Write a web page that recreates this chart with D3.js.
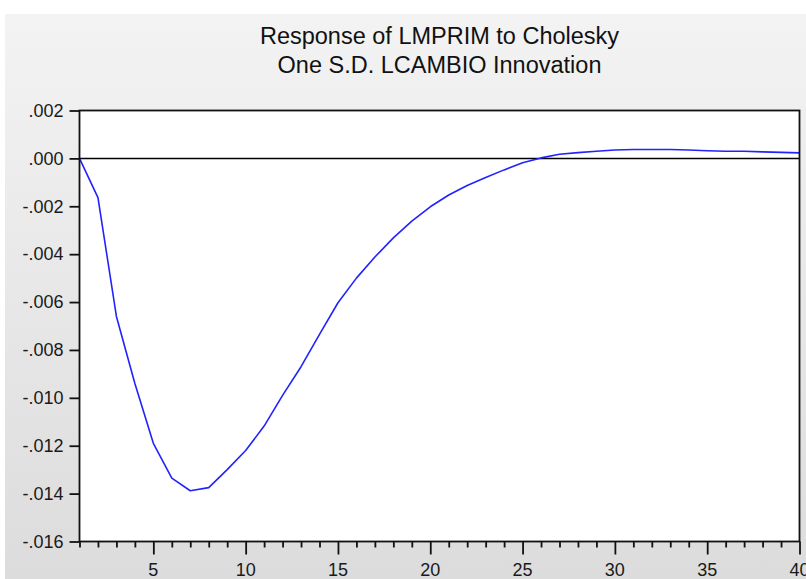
<!DOCTYPE html>
<html>
<head>
<meta charset="utf-8">
<script src="https://cdn.jsdelivr.net/npm/d3@7"></script>
<style>
  body { margin: 0; background: #fff; }
  text { font-family: "Liberation Sans", Arial, sans-serif; }
</style>
</head>
<body>
<div id="chart"></div>
<script>
// impulse response, periods 1..40
var periods = d3.range(1, 41);
var response = [
  0.00000, -0.00164, -0.00660, -0.00940, -0.01190, -0.01335, -0.01388, -0.01375,
  -0.01300, -0.01220, -0.01118, -0.00990, -0.00870, -0.00735, -0.00603, -0.00500,
  -0.00412, -0.00332, -0.00262, -0.00202, -0.00153, -0.00113, -0.00080, -0.00048,
  -0.00018, 0.00002, 0.00017, 0.00024, 0.00030, 0.00035, 0.00037, 0.00037,
  0.00037, 0.00035, 0.00032, 0.00030, 0.00030, 0.00027, 0.00025, 0.00023
];
var yTicks = [0.002, 0.000, -0.002, -0.004, -0.006, -0.008, -0.010, -0.012, -0.014, -0.016];
var xLabels = [5, 10, 15, 20, 25, 30, 35, 40];
var titleLines = ["Response of LMPRIM to Cholesky", "One S.D. LCAMBIO Innovation"];

// plot box in page pixels
var W = 806, H = 579;
var plot = {x0: 79.5, x1: 799.5, y0: 110.5, y1: 541.5};

var svg = d3.select("#chart").append("svg")
    .attr("width", W)
    .attr("height", H);

// gray panel background
var grad = svg.append("defs").append("linearGradient")
    .attr("id", "bg").attr("x1", 0).attr("y1", 0).attr("x2", 0).attr("y2", 1);
grad.append("stop").attr("offset", "0%").attr("stop-color", "#f3f3f3");
grad.append("stop").attr("offset", "100%").attr("stop-color", "#dcdcdc");
svg.append("rect")
    .attr("x", 5).attr("y", 14)
    .attr("width", W - 5).attr("height", H - 14)
    .attr("fill", "url(#bg)");

// set the ranges
var x = d3.scaleLinear().domain([1, 40]).range([plot.x0, plot.x1]);
var y = d3.scaleLinear().domain([-0.016, 0.002]).range([plot.y1, plot.y0]);

// plot area
svg.append("rect")
    .attr("x", plot.x0).attr("y", plot.y0)
    .attr("width", plot.x1 - plot.x0).attr("height", plot.y1 - plot.y0)
    .attr("fill", "#fff");

// zero line
svg.append("line")
    .attr("x1", plot.x0).attr("x2", plot.x1)
    .attr("y1", y(0)).attr("y2", y(0))
    .attr("stroke", "#000").attr("stroke-width", 1.5);

// the response line
var valueline = d3.line()
    .x(function(d, i) { return x(periods[i]); })
    .y(function(d) { return y(d); });
svg.append("path")
    .datum(response)
    .attr("fill", "none")
    .attr("stroke", "#2222ff")
    .attr("stroke-width", 1.6)
    .attr("stroke-linejoin", "round")
    .attr("d", valueline);

// frame
svg.append("rect")
    .attr("x", plot.x0).attr("y", plot.y0)
    .attr("width", plot.x1 - plot.x0).attr("height", plot.y1 - plot.y0)
    .attr("fill", "none")
    .attr("stroke", "#111").attr("stroke-width", 1.8);

// Y axis, labels like ".002" and "-.004" with a plain hyphen
var yAxis = d3.axisLeft(y)
    .tickValues(yTicks)
    .tickSize(10)
    .tickPadding(6)
    .tickFormat(function(d) {
        var v = Math.abs(d) < 1e-9 ? 0 : d;
        var s = Math.abs(v).toFixed(3).replace("0.", ".");
        return (v < 0 ? "-" : "") + s;
    });
var gy = svg.append("g")
    .attr("transform", "translate(" + plot.x0 + ",0)")
    .call(yAxis);
gy.select(".domain").remove();
gy.selectAll("line").attr("stroke", "#111").attr("stroke-width", 1.8);
gy.selectAll("text").attr("font-size", 18).attr("fill", "#1a1a1a")
    .attr("font-family", "'Liberation Sans', Arial, sans-serif");

// X axis, a tick at every period, longer ones at labelled periods
var gx = svg.append("g")
    .attr("transform", "translate(0," + plot.y1 + ")")
    .call(d3.axisBottom(x).tickValues(periods).tickSize(6).tickFormat(""));
gx.select(".domain").remove();
gx.selectAll("line").attr("stroke", "#111").attr("stroke-width", 1.8)
    .attr("y2", function(d) { return xLabels.indexOf(d) >= 0 ? 13 : 6; });
gx.selectAll("text").remove();
gx.selectAll("text.lbl")
    .data(xLabels)
    .enter().append("text")
    .attr("class", "lbl")
    .attr("x", function(d) { return x(d); })
    .attr("y", 34)
    .attr("text-anchor", "middle")
    .attr("font-size", 18)
    .attr("fill", "#1a1a1a")
    .text(function(d) { return d; });

// title
svg.selectAll("text.title")
    .data(titleLines)
    .enter().append("text")
    .attr("class", "title")
    .attr("x", (plot.x0 + plot.x1) / 2)
    .attr("y", function(d, i) { return 44 + i * 29; })
    .attr("text-anchor", "middle")
    .attr("font-size", 23.5)
    .attr("fill", "#111")
    .text(function(d) { return d; });
</script>
</body>
</html>
